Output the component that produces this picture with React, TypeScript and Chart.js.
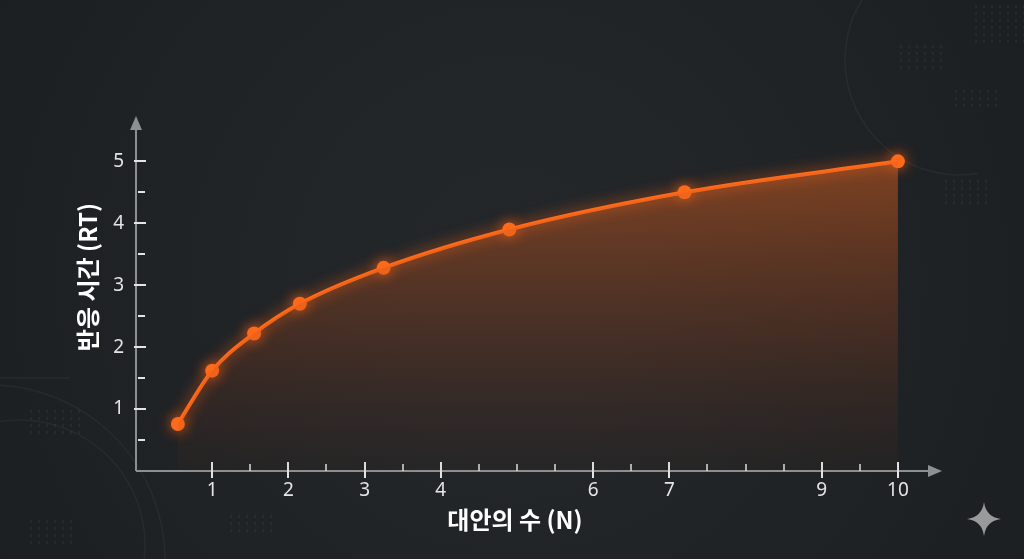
import React, { useEffect, useRef } from "react";
import { Chart, registerables } from "chart.js";

Chart.register(...registerables);

// Data
const alternativesN = [0.55, 1, 1.55, 2.15, 3.25, 4.9, 7.2, 10];
const reactionTime = [0.76, 1.62, 2.22, 2.7, 3.28, 3.9, 4.5, 5.0];
const xMajorTicks = [1, 2, 3, 4, 6, 7, 9, 10];
const xMinorTicks = [1.5, 2.5, 3.5, 4.5, 5, 5.5, 6.5, 7.5, 8, 8.5, 9.5];
const yMajorTicks = [1, 2, 3, 4, 5];
const yMinorTicks = [0.5, 1.5, 2.5, 3.5, 4.5];
const xTitle = "대안의 수 (N)";
const yTitle = "반응 시간 (RT)";

const BG = "#202427";
const ORANGE = "#ff6a1a";
const AXIS = "#8d9093";
const TICK = "#e4e4e4";
const FONT = "'Noto Sans', 'Noto Sans CJK KR', sans-serif";
const TITLE_FONT = "'Noto Sans CJK KR', 'Noto Sans', sans-serif";

const backgroundPlugin = {
  id: "bgDeco",
  beforeDraw(chart: any) {
    const { ctx, width, height } = chart;
    ctx.save();
    ctx.fillStyle = BG;
    ctx.fillRect(0, 0, width, height);
    const rg = ctx.createRadialGradient(width / 2, height / 2, 100, width / 2, height / 2, 650);
    rg.addColorStop(0, "rgba(40,44,47,0.35)");
    rg.addColorStop(1, "rgba(20,22,24,0.45)");
    ctx.fillStyle = rg;
    ctx.fillRect(0, 0, width, height);
    ctx.strokeStyle = "rgba(255,255,255,0.045)";
    ctx.lineWidth = 1.5;
    ctx.beginPath();
    ctx.arc(20, 545, 125, 0, Math.PI * 2);
    ctx.stroke();
    ctx.beginPath();
    ctx.arc(-10, 560, 175, Math.PI * 1.5, Math.PI * 2);
    ctx.stroke();
    ctx.beginPath();
    ctx.arc(960, 60, 115, Math.PI * 0.45, Math.PI * 1.55);
    ctx.stroke();
    ctx.beginPath();
    ctx.moveTo(0, 378);
    ctx.lineTo(70, 378);
    ctx.stroke();
    ctx.fillStyle = "rgba(255,255,255,0.045)";
    const grids = [
      [975, 5, 8, 6],
      [900, 45, 6, 4],
      [955, 90, 6, 3],
      [945, 180, 6, 4],
      [30, 410, 7, 4],
      [30, 520, 6, 4],
      [230, 515, 6, 3],
    ];
    for (const [gx, gy, cols, rows] of grids) {
      for (let i = 0; i < cols; i++)
        for (let j = 0; j < rows; j++) ctx.fillRect(gx + i * 8, gy + j * 7, 2, 3);
    }
    ctx.restore();
  },
};

const axesPlugin = {
  id: "axesDeco",
  beforeDatasetsDraw(chart: any) {
    const { ctx, chartArea, scales } = chart;
    const xs = scales.x;
    const ys = scales.y;
    const x0 = chartArea.left;
    const y0 = chartArea.bottom;
    ctx.save();
    ctx.strokeStyle = AXIS;
    ctx.fillStyle = AXIS;
    ctx.lineWidth = 2;
    ctx.beginPath();
    ctx.moveTo(x0, y0);
    ctx.lineTo(x0, chartArea.top + 10);
    ctx.stroke();
    ctx.beginPath();
    ctx.moveTo(x0, chartArea.top - 2);
    ctx.lineTo(x0 - 6, chartArea.top + 12);
    ctx.lineTo(x0 + 6, chartArea.top + 12);
    ctx.closePath();
    ctx.fill();
    ctx.beginPath();
    ctx.moveTo(x0, y0);
    ctx.lineTo(chartArea.right - 6, y0);
    ctx.stroke();
    ctx.beginPath();
    ctx.moveTo(chartArea.right + 6, y0);
    ctx.lineTo(chartArea.right - 8, y0 - 6);
    ctx.lineTo(chartArea.right - 8, y0 + 6);
    ctx.closePath();
    ctx.fill();
    ctx.strokeStyle = TICK;
    ctx.lineWidth = 2;
    for (const v of yMajorTicks) {
      const p = Math.round(ys.getPixelForValue(v));
      ctx.beginPath();
      ctx.moveTo(x0 - 2, p);
      ctx.lineTo(x0 + 10, p);
      ctx.stroke();
    }
    for (const v of yMinorTicks) {
      const p = Math.round(ys.getPixelForValue(v));
      ctx.beginPath();
      ctx.moveTo(x0 + 2, p);
      ctx.lineTo(x0 + 9, p);
      ctx.stroke();
    }
    for (const v of xMajorTicks) {
      const p = Math.round(xs.getPixelForValue(v));
      ctx.beginPath();
      ctx.moveTo(p, y0 - 9);
      ctx.lineTo(p, y0 + 7);
      ctx.stroke();
    }
    ctx.lineWidth = 1.5;
    for (const v of xMinorTicks) {
      const p = Math.round(xs.getPixelForValue(v));
      ctx.beginPath();
      ctx.moveTo(p, y0 - 7);
      ctx.lineTo(p, y0);
      ctx.stroke();
    }
    ctx.restore();
  },
  afterDraw(chart: any) {
    const { ctx } = chart;
    ctx.save();
    ctx.fillStyle = "#ffffff";
    ctx.font = `bold 24px ${TITLE_FONT}`;
    ctx.textAlign = "center";
    ctx.textBaseline = "middle";
    ctx.fillText(xTitle, 515, 520);
    ctx.translate(88, 277);
    ctx.rotate(-Math.PI / 2);
    ctx.fillText(yTitle, 0, 0);
    ctx.restore();
    ctx.save();
    ctx.fillStyle = "#9a9a9a";
    const cx = 984, cy = 519, r = 17;
    ctx.beginPath();
    ctx.moveTo(cx, cy - r);
    ctx.quadraticCurveTo(cx + 2, cy - 2, cx + r, cy);
    ctx.quadraticCurveTo(cx + 2, cy + 2, cx, cy + r);
    ctx.quadraticCurveTo(cx - 2, cy + 2, cx - r, cy);
    ctx.quadraticCurveTo(cx - 2, cy - 2, cx, cy - r);
    ctx.fill();
    ctx.restore();
  },
};

const glowPlugin = {
  id: "glow",
  beforeDatasetDraw(chart: any, args: any) {
    if (args.index === 1) {
      chart.ctx.save();
      chart.ctx.shadowColor = "rgba(255,100,20,0.85)";
      chart.ctx.shadowBlur = 14;
    }
  },
  afterDatasetDraw(chart: any, args: any) {
    if (args.index === 1) chart.ctx.restore();
  },
};

export default function App() {
  const ref = useRef<HTMLCanvasElement | null>(null);
  useEffect(() => {
    if (!ref.current) return;
    const points = alternativesN.map((n, i) => ({ x: n, y: reactionTime[i] }));
    const chart = new Chart(ref.current, {
      type: "line",
      data: {
        datasets: [
          {
            data: points,
            fill: "origin",
            borderWidth: 0,
            pointRadius: 0,
            cubicInterpolationMode: "monotone",
            backgroundColor: (c: any) => {
              const { chart } = c;
              const area = chart.chartArea;
              if (!area) return "rgba(200,90,30,0.3)";
              const g = chart.ctx.createLinearGradient(0, chart.scales.y.getPixelForValue(5), 0, area.bottom);
              g.addColorStop(0, "rgba(230,100,30,0.48)");
              g.addColorStop(0.55, "rgba(185,75,25,0.24)");
              g.addColorStop(1, "rgba(120,50,20,0.05)");
              return g;
            },
          },
          {
            data: points,
            fill: false,
            borderColor: ORANGE,
            borderWidth: 4,
            pointRadius: 7,
            pointBackgroundColor: ORANGE,
            pointBorderColor: ORANGE,
            pointBorderWidth: 0,
            cubicInterpolationMode: "monotone",
            clip: false,
          },
        ],
      },
      options: {
        animation: false,
        responsive: false,
        layout: { padding: { top: 118, right: 88, left: 0, bottom: 0 } },
        plugins: { legend: { display: false }, tooltip: { enabled: false } },
        scales: {
          x: {
            type: "linear",
            min: 0,
            max: 10.5,
            grid: { display: false, drawTicks: false },
            border: { display: false },
            afterBuildTicks: (s: any) => {
              s.ticks = xMajorTicks.map((v) => ({ value: v }));
            },
            afterFit: (s: any) => {
              s.height = 88;
            },
            ticks: {
              color: TICK,
              font: { family: FONT, size: 19 },
              padding: 8,
              maxRotation: 0,
              autoSkip: false,
              callback: (v: any) => String(v),
            },
          },
          y: {
            type: "linear",
            min: 0,
            max: 5.7,
            grid: { display: false, drawTicks: false },
            border: { display: false },
            afterBuildTicks: (s: any) => {
              s.ticks = yMajorTicks.map((v) => ({ value: v }));
            },
            afterFit: (s: any) => {
              s.width = 136;
            },
            ticks: {
              color: TICK,
              font: { family: FONT, size: 19 },
              padding: 12,
              callback: (v: any) => String(v),
            },
          },
        },
      },
      plugins: [backgroundPlugin, axesPlugin, glowPlugin],
    });
    return () => chart.destroy();
  }, []);
  return (
    <div style={{ position: "absolute", left: 0, top: 0, width: 1024, height: 559 }}>
      <canvas ref={ref} width={1024} height={559} style={{ display: "block" }} />
    </div>
  );
}
